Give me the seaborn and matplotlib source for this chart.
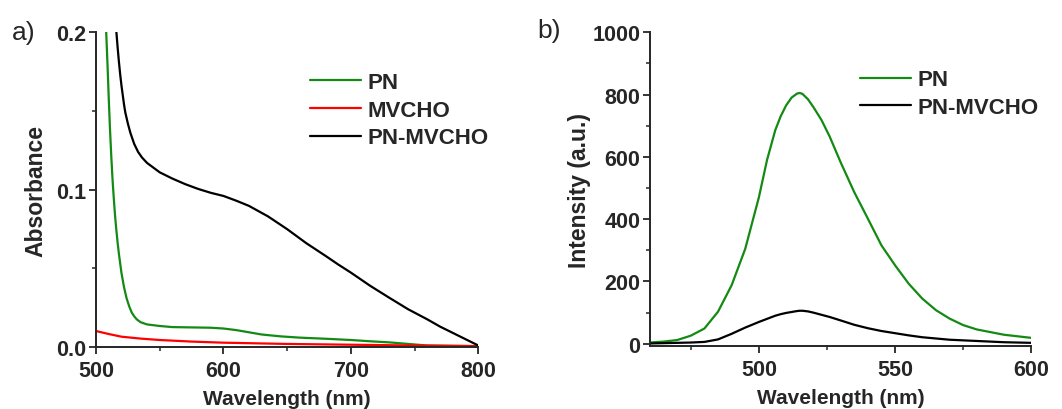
import numpy as np
import pandas as pd
import seaborn as sns
import matplotlib.pyplot as plt
from matplotlib.ticker import MultipleLocator

# absorbance spectra (panel a)
wl_pn = [508, 509, 510, 511, 512, 513, 514, 515, 516, 517, 518, 519, 520, 522, 524, 526,
         528, 530, 532, 535, 540, 550, 560, 575, 590, 600, 610, 620, 630, 645, 660, 680,
         700, 715, 730, 745, 760, 780, 800]
abs_pn = [0.2, 0.18, 0.158, 0.138, 0.121, 0.106, 0.094, 0.083, 0.074, 0.066, 0.059, 0.053,
          0.047, 0.038, 0.031, 0.026, 0.022, 0.0195, 0.0176, 0.0158, 0.0144, 0.0134, 0.0127,
          0.0125, 0.0123, 0.0118, 0.0108, 0.0094, 0.008, 0.0068, 0.006, 0.0053, 0.0045,
          0.0037, 0.003, 0.002, 0.001, 0.0008, 0.0006]

wl_mv = [500, 510, 520, 535, 550, 575, 600, 650, 700, 750, 800]
abs_mv = [0.0102, 0.0083, 0.0066, 0.0054, 0.0045, 0.0035, 0.0028, 0.002, 0.0015, 0.001, 0.0006]

wl_pnmv = [516, 517, 518, 519, 520, 521, 522, 523, 525, 527, 530, 533, 536, 540, 545, 550,
           560, 570, 580, 590, 600, 610, 620, 635, 650, 665, 680, 690, 700, 715, 730, 745,
           760, 770, 780, 790, 800]
abs_pnmv = [0.2, 0.19, 0.181, 0.173, 0.166, 0.16, 0.154, 0.149, 0.142, 0.136, 0.129, 0.124,
            0.1205, 0.117, 0.114, 0.111, 0.107, 0.1035, 0.1005, 0.098, 0.096, 0.093, 0.0897,
            0.083, 0.0749, 0.066, 0.058, 0.0525, 0.0473, 0.039, 0.0314, 0.024, 0.0176, 0.013,
            0.009, 0.005, 0.001]

# emission spectra (panel b)
wl_em = [460, 465, 470, 475, 480, 485, 490, 495, 500, 503, 506, 508, 510, 512, 514, 515,
         516, 518, 520, 523, 526, 530, 535, 540, 545, 550, 555, 560, 565, 570, 575, 580,
         590, 600]
em_pn = [4, 7, 12, 26, 49, 103, 188, 305, 470, 590, 685, 730, 765, 790, 803, 805,
         802, 785, 760, 718, 665, 583, 487, 402, 316, 252, 193, 145, 108, 81, 60, 46,
         29, 19]
em_pnmv = [1, 2, 3, 4, 6, 14, 32, 52, 70, 80, 90, 95, 99, 102, 105, 106,
           106, 104, 100, 93, 86, 75, 61, 50, 41, 34, 27, 21, 17, 13, 11, 9,
           5, 3]

green = '#138a13'
sns.set_style('ticks')
plt.rcParams['font.family'] = ['Liberation Sans', 'DejaVu Sans']
plt.rcParams['font.weight'] = 'bold'
plt.rcParams['axes.labelweight'] = 'bold'

fig = plt.figure(figsize=(10.62, 4.10), dpi=100)
ax1 = fig.add_axes([0.0904, 0.151, 0.360, 0.768])
ax2 = fig.add_axes([0.612, 0.153, 0.359, 0.766])

sns.lineplot(x=wl_pn, y=abs_pn, ax=ax1, color=green, lw=1.6, label='PN')
sns.lineplot(x=wl_mv, y=abs_mv, ax=ax1, color='#ff0000', lw=1.6, label='MVCHO')
sns.lineplot(x=wl_pnmv, y=abs_pnmv, ax=ax1, color='black', lw=1.6, label='PN-MVCHO')
ax1.set_xlim(500, 800)
ax1.set_ylim(0, 0.2)
ax1.xaxis.set_major_locator(MultipleLocator(100))
ax1.xaxis.set_minor_locator(MultipleLocator(50))
ax1.yaxis.set_major_locator(MultipleLocator(0.1))
ax1.yaxis.set_minor_locator(MultipleLocator(0.05))
ax1.set_xlabel('Wavelength (nm)', fontsize=15, labelpad=6)
ax1.set_ylabel('Absorbance', fontsize=16.5, labelpad=6)
ax1.legend(loc='upper left', bbox_to_anchor=(0.56, 0.874), frameon=False, fontsize=16,
           handlelength=2.3, handletextpad=0.3, labelspacing=0.3, borderaxespad=0,
           borderpad=0, handleheight=0.6)

sns.lineplot(x=wl_em, y=em_pn, ax=ax2, color=green, lw=1.6, label='PN')
sns.lineplot(x=wl_em, y=em_pnmv, ax=ax2, color='black', lw=1.6, label='PN-MVCHO')
ax2.set_xlim(460, 600)
ax2.set_ylim(-8, 1000)
ax2.xaxis.set_major_locator(MultipleLocator(50))
ax2.xaxis.set_minor_locator(MultipleLocator(25))
ax2.yaxis.set_major_locator(MultipleLocator(200))
ax2.yaxis.set_minor_locator(MultipleLocator(100))
ax2.set_xlabel('Wavelength (nm)', fontsize=15, labelpad=6)
ax2.set_ylabel('Intensity (a.u.)', fontsize=16.5, labelpad=1)
ax2.legend(loc='upper left', bbox_to_anchor=(0.551, 0.882), frameon=False, fontsize=16,
           handlelength=2.3, handletextpad=0.3, labelspacing=0.3, borderaxespad=0,
           borderpad=0, handleheight=0.6)

for ax in (ax1, ax2):
    sns.despine(ax=ax)
    for s in ('left', 'bottom'):
        ax.spines[s].set_linewidth(1.4)
    ax.tick_params(which='major', direction='out', length=5, width=1.3, labelsize=15.5, pad=4)
    ax.tick_params(which='minor', direction='out', length=3, width=1.1)
    ax.tick_params(axis='y', which='major', pad=2)

fig.text(0.011, 0.92, 'a)', fontsize=19, fontweight='normal', va='center')
fig.text(0.506, 0.925, 'b)', fontsize=19, fontweight='normal', va='center')

fig.savefig('out.png', dpi=100)
